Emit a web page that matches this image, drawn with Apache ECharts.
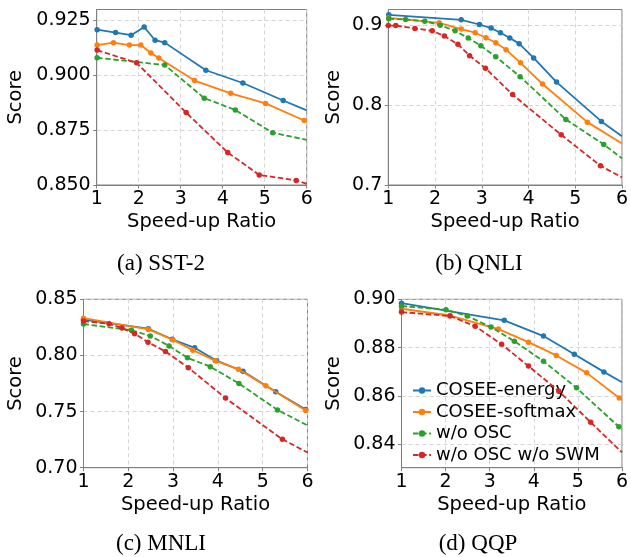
<!DOCTYPE html>
<html>
<head>
<meta charset="utf-8">
<script src="https://cdn.jsdelivr.net/npm/echarts@6/dist/echarts.min.js"></script>
<style>
html,body{margin:0;padding:0;background:#fff;}
#chart{width:631px;height:557px;}
</style>
</head>
<body>
<div id="chart"></div>
<script>
// ---------- data ----------
var seriesNames = ['COSEE-energy', 'COSEE-softmax', 'w/o OSC', 'w/o OSC w/o SWM'];
var captions = ['(a) SST-2', '(b) QNLI', '(c) MNLI', '(d) QQP'];
var xTicks = [1, 2, 3, 4, 5, 6];
var yTicksA = [0.850, 0.875, 0.900, 0.925];
var yTicksB = [0.7, 0.8, 0.9];
var yTicksC = [0.70, 0.75, 0.80, 0.85];
var yTicksD = [0.84, 0.86, 0.88, 0.90];

// (a) SST-2
var sstEnergyX  = [1.01, 1.45, 1.82, 2.13, 2.39, 2.62, 3.60, 4.48, 5.44, 6.0];
var sstEnergyY  = [0.9208, 0.9195, 0.9183, 0.9220, 0.9160, 0.9149, 0.9023, 0.8965, 0.8885, 0.8840];
var sstSoftX    = [1.01, 1.40, 1.78, 2.05, 2.29, 2.48, 3.33, 4.19, 5.02, 5.94, 6.0];
var sstSoftY    = [0.9138, 0.9149, 0.9138, 0.9138, 0.9102, 0.9079, 0.8976, 0.8918, 0.8872, 0.8794, 0.8792];
var sstOscX     = [1.01, 2.62, 3.56, 4.30, 5.19, 6.0];
var sstOscY     = [0.9080, 0.9047, 0.8896, 0.8842, 0.8738, 0.8706];
var sstSwmX     = [1.01, 1.95, 3.13, 4.12, 4.87, 5.75, 6.0];
var sstSwmY     = [0.9115, 0.9057, 0.8830, 0.8648, 0.8546, 0.8521, 0.8505];

// (b) QNLI
var qnliEnergyX = [1.01, 2.56, 2.95, 3.20, 3.40, 3.60, 3.80, 4.11, 4.60, 5.56, 6.0];
var qnliEnergyY = [0.9133, 0.9071, 0.9012, 0.8967, 0.8909, 0.8842, 0.8772, 0.8593, 0.8290, 0.7797, 0.7610];
var qnliSoftX   = [1.01, 2.09, 2.56, 2.86, 3.09, 3.30, 3.52, 3.83, 4.30, 5.26, 6.0];
var qnliSoftY   = [0.9095, 0.9033, 0.8954, 0.8909, 0.8846, 0.8784, 0.8697, 0.8531, 0.8266, 0.7788, 0.7519];
var qnliOscX    = [1.01, 1.37, 1.78, 2.11, 2.43, 2.71, 2.98, 3.30, 3.82, 4.80, 5.61, 6.0];
var qnliOscY    = [0.9083, 0.9075, 0.9054, 0.9004, 0.8933, 0.8842, 0.8746, 0.8608, 0.8358, 0.7821, 0.7509, 0.7333];
var qnliSwmX    = [1.0, 1.16, 1.57, 1.94, 2.20, 2.49, 2.74, 3.08, 3.66, 4.70, 5.54, 6.0];
var qnliSwmY    = [0.8998, 0.8998, 0.8963, 0.8933, 0.8867, 0.8763, 0.8621, 0.8463, 0.8133, 0.7629, 0.7241, 0.7096];

// (c) MNLI
var mnliEnergyX = [1.0, 2.45, 2.98, 3.48, 3.97, 4.56, 5.29, 5.96, 6.0];
var mnliEnergyY = [0.8318, 0.8238, 0.8144, 0.8068, 0.7953, 0.7859, 0.7676, 0.7518, 0.7510];
var mnliSoftX   = [1.0, 2.45, 3.00, 3.44, 3.94, 4.46, 5.07, 5.96, 6.0];
var mnliSoftY   = [0.8332, 0.8232, 0.8138, 0.8047, 0.7953, 0.7876, 0.7729, 0.7509, 0.7502];
var mnliOscX    = [1.0, 2.07, 2.49, 2.91, 3.32, 3.83, 4.47, 5.33, 6.0];
var mnliOscY    = [0.8280, 0.8224, 0.8174, 0.8085, 0.7979, 0.7900, 0.7750, 0.7515, 0.7376];
var mnliSwmX    = [1.0, 1.57, 1.86, 2.14, 2.44, 2.83, 3.34, 4.17, 5.44, 6.0];
var mnliSwmY    = [0.8306, 0.8282, 0.8244, 0.8194, 0.8118, 0.8035, 0.7891, 0.7620, 0.7253, 0.7135];

// (d) QQP
var qqpEnergyX  = [1.0, 3.33, 4.22, 4.92, 5.59, 6.0];
var qqpEnergyY  = [0.8984, 0.8913, 0.8848, 0.8773, 0.8700, 0.8657];
var qqpSoftX    = [1.0, 2.10, 3.20, 3.88, 4.51, 5.20, 5.94, 6.0];
var qqpSoftY    = [0.8961, 0.8933, 0.8877, 0.8823, 0.8768, 0.8696, 0.8592, 0.8585];
var qqpOscX     = [1.0, 2.01, 2.49, 3.03, 3.56, 4.22, 4.97, 5.93, 6.0];
var qqpOscY     = [0.8972, 0.8957, 0.8931, 0.8885, 0.8827, 0.8744, 0.8634, 0.8473, 0.8462];
var qqpSwmX     = [1.0, 2.10, 2.67, 3.27, 3.88, 4.57, 5.29, 6.0];
var qqpSwmY     = [0.8947, 0.8931, 0.8889, 0.8814, 0.8724, 0.8620, 0.8492, 0.8367];

// ---------- build ----------
var colors = ['#1f77b4', '#ff7f0e', '#2ca02c', '#d62728'];
var dashed = [false, false, true, true];
var panels = [
  {xs: [sstEnergyX, sstSoftX, sstOscX, sstSwmX], ys: [sstEnergyY, sstSoftY, sstOscY, sstSwmY],
   grid: {left: 96.7, top: 9.5, width: 210, height: 175.5}, ymin: 0.85, ymax: 0.93, ticks: yTicksA, dec: 3, nameGap: 70.5},
  {xs: [qnliEnergyX, qnliSoftX, qnliOscX, qnliSwmX], ys: [qnliEnergyY, qnliSoftY, qnliOscY, qnliSwmY],
   grid: {left: 388.3, top: 9.5, width: 236.7, height: 175.5}, ymin: 0.7, ymax: 0.92, ticks: yTicksB, dec: 1, nameGap: 44},
  {xs: [mnliEnergyX, mnliSoftX, mnliOscX, mnliSwmX], ys: [mnliEnergyY, mnliSoftY, mnliOscY, mnliSwmY],
   grid: {left: 83.5, top: 299.3, width: 224, height: 168.4}, ymin: 0.70, ymax: 0.85, ticks: yTicksC, dec: 2, nameGap: 57.5},
  {xs: [qqpEnergyX, qqpSoftX, qqpOscX, qqpSwmX], ys: [qqpEnergyY, qqpSoftY, qqpOscY, qqpSwmY],
   grid: {left: 401.5, top: 299.3, width: 224, height: 168.4}, ymin: 0.8304, ymax: 0.90, ticks: yTicksD, dec: 2, nameGap: 57.2}
];
var captionPos = [[161, 263.5], [479, 263.5], [161, 543.7], [478, 543.7]];

var FONT = 'DejaVu Sans';
var axisGray = '#808080';
var gridLine = {show: true, lineStyle: {color: '#d0d0d0', type: [4, 3], width: 0.9}};

var grids = [], xAxes = [], yAxes = [], series = [], graphics = [];
panels.forEach(function (p, i) {
  grids.push({left: p.grid.left, top: p.grid.top, width: p.grid.width, height: p.grid.height,
              show: true, borderColor: axisGray, borderWidth: 1, backgroundColor: '#fff'});
  xAxes.push({
    type: 'value', gridIndex: i, min: 1, max: 6,
    axisLabel: {customValues: xTicks, color: '#000', fontFamily: FONT, fontSize: 19, margin: 5},
    axisTick: {customValues: xTicks, show: true, length: 3.5, lineStyle: {color: axisGray}},
    axisLine: {show: true, lineStyle: {color: axisGray}},
    splitLine: gridLine,
    name: 'Speed-up Ratio', nameLocation: 'middle', nameGap: 27,
    nameTextStyle: {color: '#000', fontFamily: FONT, fontSize: 19.5}
  });
  yAxes.push({
    type: 'value', gridIndex: i, min: p.ymin, max: p.ymax,
    axisLabel: {customValues: p.ticks, color: '#000', fontFamily: FONT, fontSize: 19, margin: 6,
                formatter: (function (d) { return function (v) { return v.toFixed(d); }; })(p.dec)},
    axisTick: {customValues: p.ticks, show: true, length: 3.5, lineStyle: {color: axisGray}},
    axisLine: {show: true, lineStyle: {color: axisGray}},
    splitLine: gridLine,
    name: 'Score', nameLocation: 'middle', nameGap: p.nameGap,
    nameTextStyle: {color: '#000', fontFamily: FONT, fontSize: 19.5}
  });
  for (var s = 0; s < 4; s++) {
    var xs = p.xs[s], ys = p.ys[s], data = [];
    for (var k = 0; k < xs.length; k++) {
      var item = {value: [xs[k], ys[k]]};
      if (xs[k] >= 6) item.symbol = 'none';
      data.push(item);
    }
    series.push({
      type: 'line', name: seriesNames[s], xAxisIndex: i, yAxisIndex: i, data: data,
      symbol: 'circle', symbolSize: 5.5, showSymbol: true, clip: true, animation: false,
      itemStyle: {color: colors[s]},
      lineStyle: {color: colors[s], width: 1.8, type: dashed[s] ? [5.5, 2.6] : 'solid'},
      z: 2 + s
    });
  }
  graphics.push({type: 'text', x: captionPos[i][0], y: captionPos[i][1],
    style: {text: captions[i], font: '23px "Liberation Serif"', fill: '#000', textAlign: 'center', textVerticalAlign: 'middle'}});
});

var chart = echarts.init(document.getElementById('chart'), null, {renderer: 'canvas'});
chart.setOption({
  animation: false,
  backgroundColor: '#fff',
  grid: grids, xAxis: xAxes, yAxis: yAxes, series: series,
  legend: {
    data: seriesNames, orient: 'vertical', left: 407, top: 376.5,
    itemWidth: 18, itemHeight: 8, itemGap: 3.5,
    textStyle: {fontFamily: FONT, fontSize: 18, color: '#000', lineHeight: 18},
    backgroundColor: 'transparent'
  },
  graphic: graphics
});
</script>
</body>
</html>
